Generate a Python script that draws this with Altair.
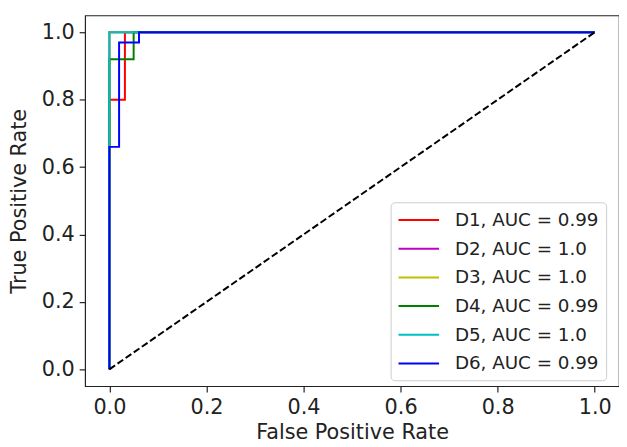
import altair as alt
import pandas as pd

# ---- data ----
series_labels = [
    "D1, AUC = 0.99",
    "D2, AUC = 1.0",
    "D3, AUC = 1.0",
    "D4, AUC = 0.99",
    "D5, AUC = 1.0",
    "D6, AUC = 0.99",
]
series_colors = ["#ff0000", "#bf00bf", "#bfbf00", "#008000", "#00bfbf", "#0000ff"]

d1_fpr = [0.0, 0.0, 0.032, 0.032, 1.0]
d1_tpr = [0.0, 0.80, 0.80, 1.0, 1.0]
d2_fpr = [0.0, 0.0, 1.0]
d2_tpr = [0.0, 1.0, 1.0]
d3_fpr = [0.0, 0.0, 1.0]
d3_tpr = [0.0, 1.0, 1.0]
d4_fpr = [0.0, 0.0, 0.05, 0.05, 1.0]
d4_tpr = [0.0, 0.92, 0.92, 1.0, 1.0]
d5_fpr = [0.0, 0.0, 1.0]
d5_tpr = [0.0, 1.0, 1.0]
d6_fpr = [0.0, 0.0, 0.02, 0.02, 0.061, 0.061, 1.0]
d6_tpr = [0.0, 0.66, 0.66, 0.97, 0.97, 1.0, 1.0]

chance_fpr = [0.0, 1.0]
chance_tpr = [0.0, 1.0]

tick_values = [0.0, 0.2, 0.4, 0.6, 0.8, 1.0]

# ---- build table ----
all_fpr = [d1_fpr, d2_fpr, d3_fpr, d4_fpr, d5_fpr, d6_fpr]
all_tpr = [d1_tpr, d2_tpr, d3_tpr, d4_tpr, d5_tpr, d6_tpr]
rows = []
for lab, fx, ty in zip(series_labels, all_fpr, all_tpr):
    for i, (a, b) in enumerate(zip(fx, ty)):
        rows.append({"series": lab, "fpr": a, "tpr": b, "order": i})
df = pd.DataFrame(rows)
df_chance = pd.DataFrame({"fpr": chance_fpr, "tpr": chance_tpr, "order": [0, 1]})

FONT = "DejaVu Sans"

x_scale = alt.Scale(domain=[-0.05, 1.05], nice=False, zero=False)
y_scale = alt.Scale(domain=[-0.05, 1.05], nice=False, zero=False)

x_axis = alt.Axis(
    title="False Positive Rate", values=tick_values, format=".1f",
    grid=False, domain=False, tickSize=6, tickWidth=1.2, tickColor="#222",
    labelFontSize=21, labelPadding=5, labelColor="#222", labelFont=FONT,
    titleFontSize=21, titleFont=FONT, titleFontWeight="normal", titleColor="#222",
    titlePadding=4, labelFlush=False,
)
y_axis = alt.Axis(
    title="True Positive Rate", values=tick_values, format=".1f",
    grid=False, domain=False, tickSize=6, tickWidth=1.2, tickColor="#222",
    labelFontSize=21, labelPadding=5, labelColor="#222", labelFont=FONT,
    titleFontSize=21, titleFont=FONT, titleFontWeight="normal", titleColor="#222",
    titlePadding=12, labelFlush=False,
)

lines = alt.Chart(df).mark_line(strokeWidth=2, interpolate="linear").encode(
    x=alt.X("fpr:Q", scale=x_scale, axis=x_axis),
    y=alt.Y("tpr:Q", scale=y_scale, axis=y_axis),
    order="order:Q",
    color=alt.Color(
        "series:N",
        scale=alt.Scale(domain=series_labels, range=series_colors),
        legend=alt.Legend(
            title=None, orient="none", legendX=309, legendY=189,
            symbolType="M-1,0H3.1", symbolSize=400, symbolStrokeWidth=2,
            labelFontSize=18.5, labelFont=FONT, labelColor="#222",
            labelOffset=36, rowPadding=8, padding=7,
            fillColor="white", strokeColor="#cccccc", cornerRadius=4,
        ),
    ),
)

chance = alt.Chart(df_chance).mark_line(
    color="black", strokeWidth=2, strokeDash=[7, 3]
).encode(
    x=alt.X("fpr:Q", scale=x_scale),
    y=alt.Y("tpr:Q", scale=y_scale),
    order="order:Q",
)

chart = alt.layer(lines, chance).properties(
    width=540, height=375,
    background="white",
    autosize=alt.AutoSizeParams(type="none"),
    padding={"left": 78, "top": 5, "right": 0, "bottom": 58},
).configure_view(
    stroke="#222", strokeWidth=1.2
)

chart.save("out.html", embed_options={"renderer": "svg", "actions": False})
